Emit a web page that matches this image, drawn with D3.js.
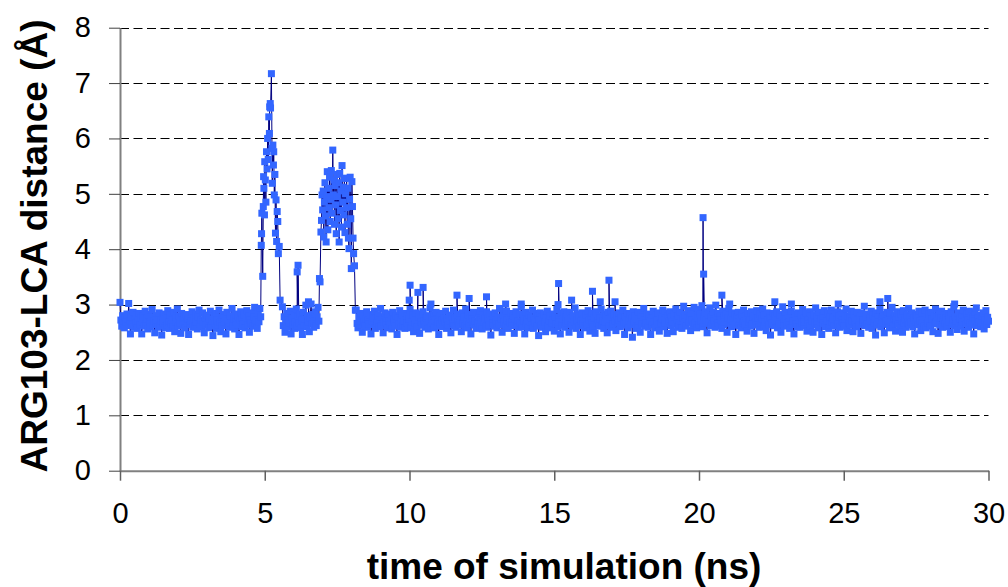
<!DOCTYPE html>
<html><head><meta charset="utf-8">
<script src="https://cdn.jsdelivr.net/npm/d3@7/dist/d3.min.js"></script>
<style>body{margin:0;background:#fff}svg{display:block}</style>
</head><body><svg id="chart" width="1008" height="587"></svg>
<script>
// ---- data ----
const timeTicks = [0, 5, 10, 15, 20, 25, 30];
const distanceTicks = [0, 1, 2, 3, 4, 5, 6, 7, 8];
const xTitle = "time of simulation (ns)";
const yTitle = "ARG103-LCA distance (Å)";

// baseline segments (evenly sampled between start and end time, ns)
const baseline1Range = [0, 4.86];
const baseline1 = [
3.04,2.72,2.61,2.80,2.66,2.58,2.75,2.69,2.83,2.62,3.02,2.71,2.47,2.78,2.64,2.86,2.59,2.73,2.67,2.81,
2.57,2.70,2.84,2.63,2.76,2.47,2.68,2.79,2.61,2.88,2.65,2.74,2.56,2.82,2.69,2.60,2.77,2.91,2.64,2.71,
2.49,2.80,2.67,2.73,2.59,2.85,2.62,2.70,2.45,2.78,2.66,2.83,2.58,2.74,2.63,2.89,2.69,2.57,2.81,2.65,
2.72,2.60,2.86,2.51,2.76,2.68,2.92,2.61,2.79,2.66,2.48,2.84,2.70,2.63,2.77,2.58,2.82,2.67,2.74,2.46,
2.80,2.64,2.71,2.87,2.59,2.75,2.62,2.83,2.68,2.56,2.78,2.90,2.65,2.72,2.60,2.85,2.69,2.49,2.76,2.63,
2.81,2.67,2.58,2.74,2.88,2.61,2.70,2.44,2.79,2.66,2.84,2.57,2.73,2.64,2.90,2.69,2.51,2.77,2.62,2.82,
2.68,2.75,2.47,2.86,2.63,2.71,2.59,2.80,2.66,2.93,2.61,2.74,2.56,2.83,2.69,2.64,2.78,2.46,2.72,2.87,
2.60,2.76,2.65,2.82,2.58,2.70,2.89,2.63,2.79,2.50,2.73,2.67,2.85,2.61,2.77,2.95,2.66,2.72,2.57,2.84,
2.69,2.93,2.78];

const baseline2Range = [5.61, 6.87];
const baseline2 = [
2.96,2.62,2.78,2.50,2.70,2.84,2.59,2.73,2.66,2.88,2.47,2.75,2.64,2.81,2.57,2.69,2.92,2.61,2.77,2.67,
2.83,2.58,2.72,2.46,2.86,2.63,2.74,2.99,2.60,2.80,2.68,2.51,2.76,3.01,2.65,2.82,2.59,2.71,2.87,2.62,
2.78,2.95,2.70];

const baseline3Range = [8.16, 30];
const baseline3 = [
2.90,2.66,2.58,2.77,2.63,2.84,2.71,2.50,2.80,2.68,2.61,2.75,2.87,2.59,2.73,2.65,2.82,2.47,2.70,2.79,
2.64,2.88,2.57,2.74,2.67,2.81,2.60,2.72,2.93,2.62,2.78,2.49,2.69,2.85,2.66,2.76,2.58,2.83,2.71,2.63,
2.77,2.56,2.86,2.68,2.73,2.61,2.80,2.46,2.75,2.65,2.89,2.59,2.72,2.82,2.64,2.70,2.57,2.84,2.67,2.79,
2.62,2.74,2.91,2.58,2.69,2.81,2.51,2.76,2.66,2.85,2.60,2.72,2.78,2.48,2.83,2.68,2.63,2.87,2.71,2.59,
2.75,2.64,2.80,2.56,2.70,2.94,2.62,2.77,2.67,2.82,2.58,2.73,2.86,2.61,2.69,2.46,2.79,2.65,2.84,2.72,
2.60,2.76,2.68,2.88,2.57,2.74,2.63,2.81,2.70,2.49,2.78,2.66,2.90,2.62,2.75,2.59,2.83,2.69,2.64,2.80,
2.73,2.51,2.85,2.67,2.77,2.61,2.92,2.70,2.58,2.82,2.65,2.74,2.47,2.79,2.68,2.86,2.63,2.71,2.57,2.84,
2.66,2.78,2.60,2.89,2.72,2.56,2.81,2.69,2.75,2.62,2.87,2.59,2.76,2.64,2.83,2.45,2.73,2.67,2.80,2.61,
2.85,2.70,2.58,2.77,2.65,2.93,2.63,2.74,2.50,2.82,2.68,2.79,2.61,2.88,2.72,2.57,2.76,2.66,2.84,2.69,
2.62,2.80,2.48,2.75,2.87,2.64,2.71,2.59,2.83,2.67,2.96,2.60,2.78,2.70,2.47,2.86,2.65,2.73,2.58,2.81,
2.68,2.76,2.63,2.90,2.57,2.74,2.66,2.84,2.61,2.79,2.44,2.72,2.85,2.64,2.77,2.59,2.82,2.69,2.51,2.75,
2.88,2.62,2.71,2.80,2.58,2.67,2.83,2.73,2.52,2.78,2.65,2.91,2.60,2.76,2.69,2.47,2.84,2.63,2.74,2.87,
2.59,2.77,2.66,2.82,2.70,2.50,2.86,2.64,2.75,2.61,2.80,2.68,2.94,2.57,2.73,2.83,2.62,2.79,2.46,2.71,
2.85,2.65,2.74,2.58,2.81,2.69,2.63,2.89,2.72,2.52,2.78,2.67,2.84,2.60,2.76,2.48,2.87,2.66,2.73,2.80,
2.61,2.75,2.92,2.64,2.70,2.57,2.83,2.68,2.79,2.49,2.86,2.62,2.74,2.88,2.59,2.77,2.65,2.82,2.71,2.53,
2.80,2.67,2.73,2.85,2.60,2.76,2.63,2.90,2.69,2.46,2.78,2.66,2.84,2.58,2.72,2.81,2.64,2.75,2.41,2.87,
2.68,2.79,2.57,2.74,2.62,2.86,2.70,2.50,2.82,2.65,2.77,2.93,2.61,2.73,2.67,2.83,2.59,2.80,2.71,2.46,
2.76,2.64,2.88,2.69,2.58,2.81,2.72,2.63,2.85,2.52,2.78,2.67,2.74,2.90,2.60,2.84,2.66,2.75,2.48,2.79,
2.71,2.87,2.62,2.77,2.68,2.51,2.83,2.65,2.92,2.73,2.59,2.80,2.64,2.86,2.70,2.57,2.76,2.97,2.66,2.82,
2.61,2.74,2.89,2.68,2.79,2.53,2.85,2.72,2.63,2.95,2.67,2.81,2.58,2.76,2.91,2.64,2.83,2.70,2.98,2.60,
2.78,2.66,2.87,2.73,2.49,2.82,2.69,2.94,2.62,2.77,2.65,2.86,2.71,2.59,2.99,2.75,2.67,2.84,2.61,2.80,
2.72,2.57,2.88,2.64,2.79,2.68,2.83,2.50,2.76,2.93,2.66,2.74,2.60,2.85,2.70,2.63,2.81,2.46,2.77,2.69,
2.86,2.62,2.75,2.58,2.82,2.67,2.90,2.71,2.64,2.79,2.52,2.84,2.68,2.73,2.61,2.87,2.65,2.78,2.48,2.80,
2.70,2.89,2.63,2.76,2.59,2.83,2.66,2.74,2.92,2.60,2.81,2.69,2.53,2.85,2.72,2.64,2.78,2.45,2.75,2.67,
2.84,2.62,2.79,2.70,2.87,2.58,2.73,2.65,2.82,2.50,2.77,2.96,2.68,2.61,2.86,2.74,2.63,2.80,2.69,2.57,
2.76,2.88,2.64,2.71,2.47,2.83,2.67,2.78,2.60,2.85,2.72,2.59,2.81,2.66,2.91,2.62,2.75,2.68,2.84,2.52,
2.73,2.65,2.87,2.61,2.79,2.70,2.50,2.82,2.67,2.94,2.63,2.77,2.58,2.86,2.69,2.74,2.46,2.80,2.66,2.89,
2.60,2.76,2.71,2.84,2.57,2.78,2.64,2.90,2.68,2.75,2.62,2.83,2.49,2.72,2.87,2.65,2.79,2.59,2.81,2.70,
2.67,2.85,2.61,2.74,2.92,2.53,2.80,2.66,2.77,2.63,2.88,2.71,2.51,2.82,2.69,2.75,2.60,2.86,2.73,2.64,
2.79,2.48,2.84,2.68,2.72,2.97,2.62,2.78,2.65,2.83,2.59,2.76,2.70,2.88,2.57,2.81,2.67,2.74,2.45,2.85,
2.63,2.77,2.69,2.91,2.60,2.75,2.66,2.82,2.49,2.79,2.71,2.86,2.64,2.73,2.58,2.84,2.68,2.95,2.62,2.76,
2.80,2.52,2.72,2.87,2.65,2.78,2.61,2.83,2.70,2.50,2.89,2.67,2.74,2.59,2.81,2.66,2.93,2.63,2.77,2.69,
2.85,2.60,2.75,2.47,2.82,2.68,2.79,2.64,2.88,2.71,2.53,2.84,2.67,2.73,2.62,2.90,2.58,2.78,2.66,2.83,
2.70,2.61,2.86,2.74,2.51,2.80,2.65,2.92,2.69,2.77,2.48,2.83,2.63,2.76,2.88,2.59,2.72,2.81,2.66,2.75,
2.60,2.84,2.68,2.79,2.50,2.87,2.64,2.73,2.96,2.62,2.78,2.70,2.55,2.85,2.67,2.74,2.61,2.82,2.69,2.90,
2.52,2.76,2.65,2.83,2.72,2.59,2.88,2.66,2.80,2.63,2.77,2.47,2.86,2.71,2.94,2.62,2.75,2.68,2.81,2.60,
2.79,2.67,2.85,2.56,2.73,2.89,2.64,2.77,2.70];

// excursions: [time (ns), distance (Å)]
const peak1 = [
[4.88,4.07],[4.89,4.28],[4.90,4.65],[4.93,3.51],[4.95,4.77],[4.96,5.31],[4.97,5.10],[4.99,4.62],
[5.00,5.58],[5.02,5.25],[5.04,4.85],[5.06,5.76],[5.08,5.45],[5.10,6.00],[5.12,5.62],[5.14,6.39],
[5.16,6.09],[5.17,6.57],[5.19,6.63],[5.20,6.55],[5.23,7.17],[5.25,5.82],[5.26,5.19],[5.28,5.88],
[5.30,5.52],[5.31,5.76],[5.33,4.98],[5.35,5.35],[5.37,4.29],[5.39,4.89],[5.41,4.14],[5.43,4.68],
[5.45,4.50],[5.47,3.92],[5.50,4.05],[5.53,3.08]];
const spikesMid = [[6.12,3.59],[6.15,3.71],[6.51,3.05]];
const peak2 = [
[6.89,3.47],[6.91,3.41],[6.94,4.31],[6.96,4.52],[6.98,4.98],[7.00,4.71],[7.02,5.05],[7.04,4.22],
[7.06,4.85],[7.08,5.20],[7.10,4.60],[7.12,4.13],[7.14,4.95],[7.16,5.40],[7.18,4.35],[7.20,5.10],
[7.22,4.75],[7.24,5.30],[7.26,4.50],[7.28,4.90],[7.30,5.42],[7.32,4.65],[7.35,5.79],[7.37,4.98],
[7.39,5.25],[7.41,4.45],[7.43,5.15],[7.45,4.80],[7.47,4.28],[7.49,5.35],[7.51,4.95],[7.53,4.55],
[7.55,5.20],[7.57,4.13],[7.59,5.37],[7.61,4.70],[7.63,5.05],[7.65,4.40],[7.67,5.51],[7.69,4.85],
[7.71,5.12],[7.73,4.62],[7.75,5.28],[7.77,4.30],[7.79,5.00],[7.81,4.75],[7.83,5.28],[7.85,4.45],
[7.87,5.10],[7.89,4.20],[7.91,4.01],[7.93,4.90],[7.95,5.30],[7.97,4.55],[7.99,3.65],[8.01,5.22],
[8.03,4.77],[8.05,4.20],[8.07,3.92],[8.10,3.70],[8.13,2.90]];
const spikesLate = [
[9.99,3.08],[10.02,3.35],[10.29,3.22],[10.47,3.31],[10.74,3.01],[11.64,3.17],[12.06,3.11],
[12.66,3.14],[13.32,3.01],[13.86,3.01],[15.13,3.00],[15.15,3.38],[15.60,3.08],[16.32,3.24],
[16.59,3.05],[16.89,3.44],[17.10,3.05],[20.14,4.57],[20.16,3.55],[20.79,3.17],[21.06,3.01],
[22.62,3.05],[23.19,3.01],[24.81,3.01],[26.25,3.05],[26.52,3.11],[28.83,3.01]];

// ---- chart ----
const svg = d3.select("#chart");
const font = "'Liberation Sans', Arial, Helvetica, sans-serif";
svg.append("rect").attr("width", 1008).attr("height", 587).attr("fill", "#fff");

const x = d3.scaleLinear().domain([0, 30]).range([120, 988.5]);
const y = d3.scaleLinear().domain([0, 8]).range([470.7, 27.7]);

function spread(range, vals) {
  const n = vals.length;
  return vals.map((v, i) => ({ t: range[0] + (range[1] - range[0]) * i / (n - 1), v }));
}
const pairs = a => a.map(([t, v]) => ({ t, v }));
const points = [].concat(
  spread(baseline1Range, baseline1),
  pairs(peak1),
  spread(baseline2Range, baseline2),
  pairs(spikesMid),
  pairs(peak2),
  spread(baseline3Range, baseline3),
  pairs(spikesLate)
).sort((a, b) => a.t - b.t);

// gridlines
svg.append("g").selectAll("line")
  .data(distanceTicks.filter(d => d > 0))
  .join("line")
  .attr("x1", x(0)).attr("x2", x(30))
  .attr("y1", d => Math.round(y(d)) + 0.5).attr("y2", d => Math.round(y(d)) + 0.5)
  .attr("stroke", "#000").attr("stroke-width", 1)
  .attr("stroke-dasharray", "9,4.5");

// y axis
const yAxis = svg.append("g").attr("transform", `translate(${x(0)},0)`)
  .call(d3.axisLeft(y).tickValues(distanceTicks).tickFormat(d3.format("d"))
    .tickSize(11).tickSizeOuter(0).tickPadding(18));
yAxis.select(".domain").attr("stroke", "#808080").attr("stroke-width", 2);
yAxis.selectAll(".tick line").attr("stroke", "#404040").attr("stroke-width", 1);
yAxis.selectAll("text").attr("font-family", font).attr("font-size", 29).attr("fill", "#000");

// x axis
const xAxis = svg.append("g").attr("transform", `translate(0,${y(0)})`)
  .call(d3.axisBottom(x).tickValues(timeTicks).tickFormat(d3.format("d"))
    .tickSize(10).tickSizeOuter(0).tickPadding(22));
xAxis.select(".domain").attr("stroke", "#808080").attr("stroke-width", 2);
xAxis.selectAll(".tick line").attr("stroke", "#606060").attr("stroke-width", 1.5);
xAxis.selectAll("text").attr("font-family", font).attr("font-size", 29).attr("fill", "#000");

// series line
svg.append("path")
  .datum(points)
  .attr("fill", "none")
  .attr("stroke", "#000080")
  .attr("stroke-width", 1)
  .attr("d", d3.line().x(d => x(d.t)).y(d => y(d.v)));

// markers
const m = 7;
svg.append("g").selectAll("rect")
  .data(points)
  .join("rect")
  .attr("x", d => x(d.t) - m / 2)
  .attr("y", d => y(d.v) - m / 2)
  .attr("width", m).attr("height", m)
  .attr("fill", "#3366ff");

// titles
svg.append("text")
  .attr("x", 564).attr("y", 579)
  .attr("text-anchor", "middle")
  .attr("font-family", font).attr("font-size", 37).attr("font-weight", "bold")
  .text(xTitle);

svg.append("text")
  .attr("transform", "translate(47,246) rotate(-90)")
  .attr("text-anchor", "middle")
  .attr("font-family", font).attr("font-size", 37).attr("font-weight", "bold")
  .text(yTitle);
</script>
</body></html>
